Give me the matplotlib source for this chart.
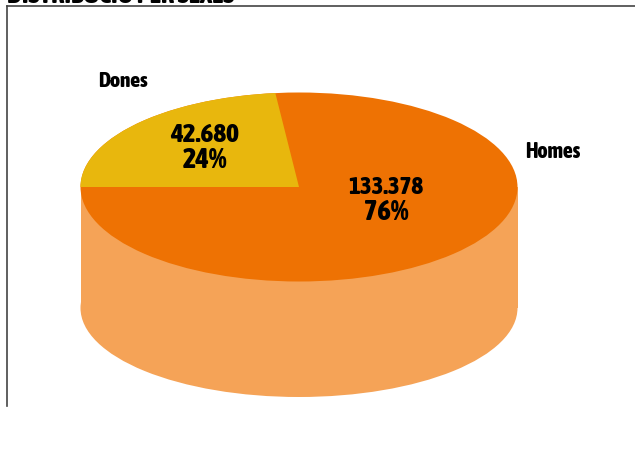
import matplotlib
matplotlib.use("Agg")
import matplotlib.pyplot as plt
from matplotlib.patches import Ellipse, Rectangle
from matplotlib.lines import Line2D
import numpy as np

categories = ["Dones", "Homes"]
values = [42680, 133378]
value_labels = ["42.680", "133.378"]
pct_labels = ["24%", "76%"]
title = "DISTRIBUCIÓ PER SEXES"
colors = ["#E8B70D", "#EE7203"]
side_color = "#F5A357"

W, H = 635, 450
fig = plt.figure(figsize=(W/100, H/100), dpi=100)
ax = fig.add_axes([0, 0, 1, 1])
ax.set_xlim(0, W); ax.set_ylim(H, 0); ax.axis("off")

font = ["Asap Condensed", "Roboto Condensed", "DejaVu Sans"]
cx, cy, rx, ry = 299, 187, 218.5, 94.5
low_cy, low_ry = 308, 89

# Frame lines
ax.add_line(Line2D([7, 7], [406, 6], color="#444444", lw=1.2))
ax.add_line(Line2D([7, 635], [6, 6], color="#444444", lw=1.2))

# Cylinder side
ax.add_patch(Rectangle((cx-rx, cy), 2*rx, low_cy-cy, fc=side_color, ec="none"))
ax.add_patch(Ellipse((cx, low_cy), 2*rx, 2*low_ry, fc=side_color, ec="none"))

# Top face: angles from data, with a slight foreshortening of the rear slice
share = values[0] / sum(values)
foreshorten = 0.96
a_start = 180.0
a_end = a_start - share * 360 * foreshorten
t = np.radians(np.linspace(a_end, a_start, 120))
ax.add_patch(Ellipse((cx, cy), 2*rx, 2*ry, fc=colors[1], ec="none"))
px = np.r_[cx, cx + rx*np.cos(t)]
py = np.r_[cy, cy - ry*np.sin(t)]
ax.fill(px, py, fc=colors[0], ec="none")

txt = dict(family=font, weight=800, color="black", ha="center", va="center")
ax.text(205, 135, value_labels[0], fontsize=19.5, **txt)
ax.text(205, 160, pct_labels[0], fontsize=20.5, **txt)
ax.text(386, 187, value_labels[1], fontsize=18, **txt)
ax.text(386, 212, pct_labels[1], fontsize=20.5, **txt)
ax.text(122.5, 81, categories[0], fontsize=15.4, **txt)
ax.text(552.5, 152, categories[1], fontsize=15.5, **txt)
ax.text(7, 3, title, family=font, weight=800, fontsize=19, color="black", ha="left", va="baseline")

fig.savefig("out.png", dpi=100, facecolor="white")
